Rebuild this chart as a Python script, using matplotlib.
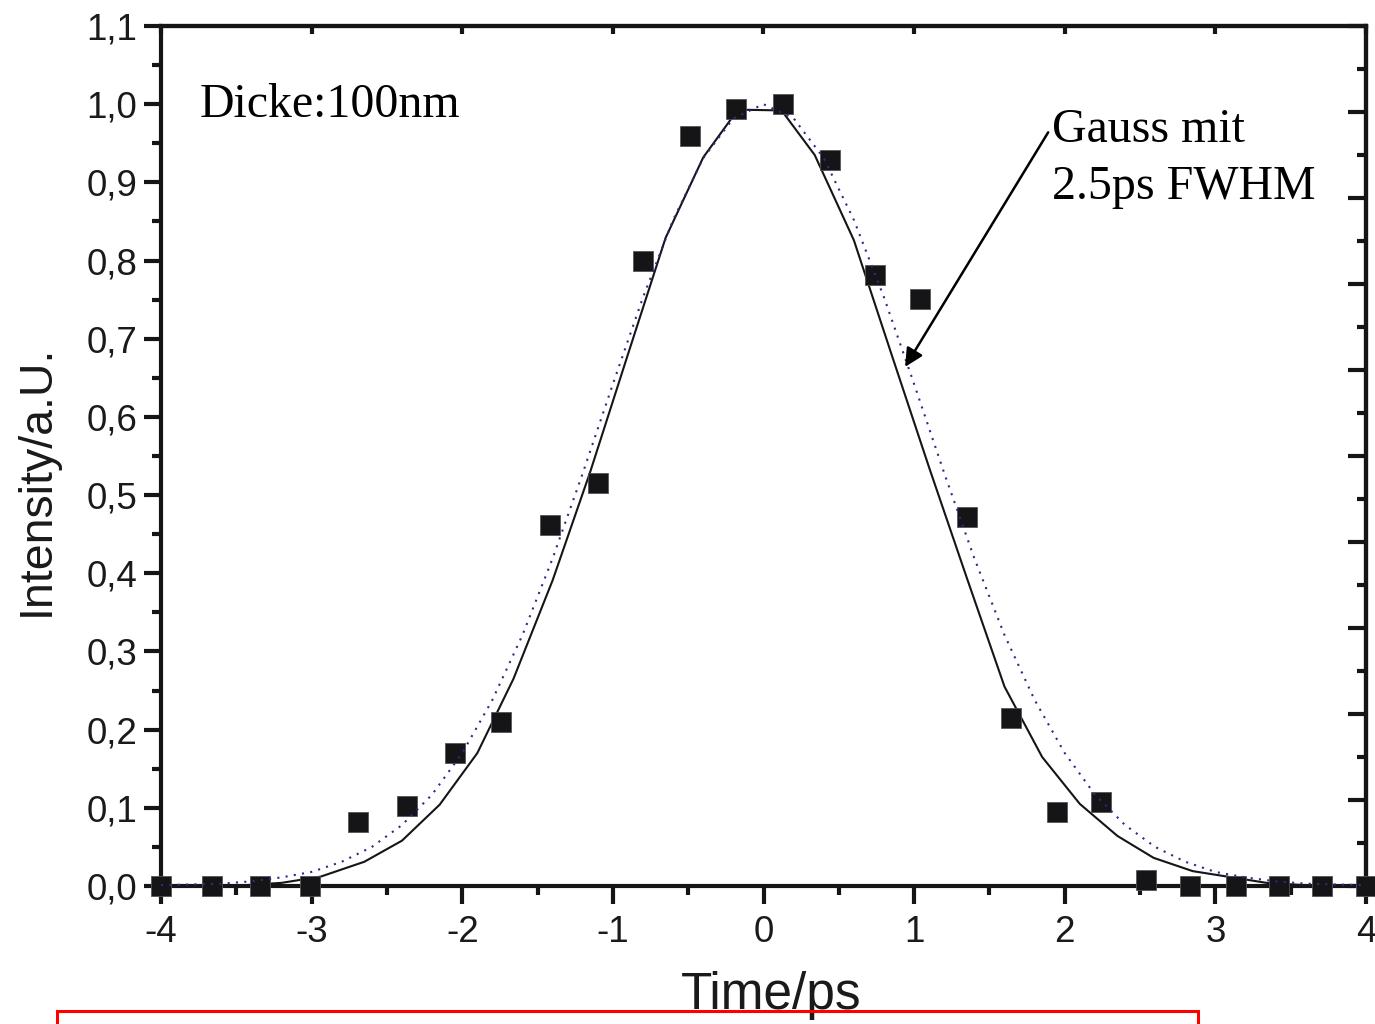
import matplotlib
matplotlib.use("Agg")
import matplotlib.pyplot as plt
from matplotlib.patches import Rectangle
from matplotlib.ticker import MultipleLocator, FuncFormatter, NullLocator

plt.rcParams['font.family'] = ['Liberation Sans', 'DejaVu Sans']
plt.rcParams['axes.unicode_minus'] = False

# Measured autocorrelation (squares)
t_meas = [-4.00, -3.66, -3.34, -3.01, -2.69, -2.37, -2.05, -1.74, -1.42, -1.10,
          -0.80, -0.49, -0.18, 0.13, 0.44, 0.74, 1.04, 1.35, 1.64, 1.95,
          2.24, 2.54, 2.83, 3.14, 3.42, 3.71, 4.00]
I_meas = [0.000, 0.000, 0.000, 0.000, 0.082, 0.102, 0.170, 0.210, 0.462, 0.515,
          0.800, 0.959, 0.994, 1.000, 0.928, 0.781, 0.751, 0.472, 0.215, 0.095,
          0.107, 0.008, 0.000, 0.000, 0.000, 0.000, 0.000]

# Fitted curve (solid polyline)
t_fit = [-4.00, -3.45, -3.20, -2.94, -2.65, -2.40, -2.15, -1.90, -1.66, -1.40,
         -1.15, -0.90, -0.65, -0.40, -0.17, 0.12, 0.34, 0.60, 0.85, 1.10,
         1.35, 1.60, 1.85, 2.10, 2.35, 2.59, 2.85, 3.08, 3.34, 3.60, 4.00]
I_fit = [0.000, 0.001, 0.004, 0.012, 0.031, 0.058, 0.104, 0.170, 0.265, 0.391,
         0.530, 0.680, 0.829, 0.932, 0.993, 0.992, 0.935, 0.826, 0.680, 0.535,
         0.394, 0.255, 0.165, 0.105, 0.064, 0.036, 0.019, 0.012, 0.004, 0.001, 0.000]

# Gaussian reference, 2.5 ps FWHM (dotted)
t_gauss = [-4.0, -3.8, -3.6, -3.4, -3.2, -3.0, -2.8, -2.6, -2.4, -2.2,
           -2.0, -1.8, -1.6, -1.4, -1.2, -1.0, -0.8, -0.6, -0.4, -0.2,
           0.0, 0.2, 0.4, 0.6, 0.8, 1.0, 1.2, 1.4, 1.6, 1.8,
           2.0, 2.2, 2.4, 2.6, 2.8, 3.0, 3.2, 3.4, 3.6, 3.8, 4.0]
I_gauss = [0.001, 0.002, 0.003, 0.006, 0.011, 0.018, 0.031, 0.050, 0.078, 0.117,
           0.170, 0.238, 0.321, 0.419, 0.528, 0.642, 0.753, 0.852, 0.931, 0.982,
           1.000, 0.982, 0.931, 0.852, 0.753, 0.642, 0.528, 0.419, 0.321, 0.238,
           0.170, 0.117, 0.078, 0.050, 0.031, 0.018, 0.011, 0.006, 0.003, 0.002, 0.001]

x_ticks = [-4, -3, -2, -1, 0, 1, 2, 3, 4]

W, H = 1375, 1024
fig = plt.figure(figsize=(W / 100, H / 100), dpi=100)
ax = fig.add_axes([161 / W, 138 / H, 1205 / W, 860 / H])

ink = '#151517'
ax.plot(t_fit, I_fit, color=ink, lw=1.5, zorder=2, solid_joinstyle='miter')
ax.plot(t_meas, I_meas, linestyle='none', marker='s', markersize=14.2,
        color=ink, markeredgecolor='#555558', markeredgewidth=0.6,
        zorder=3, clip_on=False)
ax.plot(t_gauss, I_gauss, color='#2b2b8c', lw=1.5, linestyle=(0, (1, 3)),
        zorder=4)

ax.set_xlim(-4, 4)
ax.set_ylim(0, 1.1)
ax.set_xticks(x_ticks)
ax.xaxis.set_minor_locator(MultipleLocator(0.5))
ax.yaxis.set_major_locator(MultipleLocator(0.1))
ax.yaxis.set_minor_locator(MultipleLocator(0.05))
ax.yaxis.set_major_formatter(FuncFormatter(lambda v, p: f"{v:.1f}".replace('.', ',')))
ax.xaxis.set_major_formatter(FuncFormatter(lambda v, p: f"{v:g}"))

for s in ax.spines.values():
    s.set_linewidth(3)
    s.set_color(ink)

ax.tick_params(axis='both', which='both', direction='out', width=3,
               color=ink, labelcolor='#1a1a1a', labelsize=26.5)
ax.tick_params(axis='y', which='major', length=12.2, pad=5)
ax.tick_params(axis='y', which='minor', length=6.5)
ax.tick_params(axis='x', which='major', length=12.8, pad=8)
ax.tick_params(axis='x', which='minor', length=6.8)

# Inward ticks on the top and right frame
top = ax.secondary_xaxis('top')
top.set_xticks(x_ticks)
top.xaxis.set_minor_locator(NullLocator())
top.tick_params(direction='in', length=5.5, width=3, color=ink, labeltop=False)
top.spines['top'].set_linewidth(3)

right = ax.secondary_yaxis('right', functions=(lambda y: y / 1.1, lambda r: r * 1.1))
right.yaxis.set_major_locator(MultipleLocator(0.1))
right.yaxis.set_minor_locator(MultipleLocator(0.05))
right.tick_params(which='major', direction='in', length=12.8, width=3, color=ink,
                  labelright=False)
right.tick_params(which='minor', direction='in', length=6.5, width=3, color=ink)
right.spines['right'].set_linewidth(3)

ax.set_ylabel('Intensity/a.U.', fontsize=33.5, color='#1a1a1a')
ax.yaxis.set_label_coords(-0.103, 0.472)
ax.yaxis.label.set_va('center')

ax.set_xlabel('Time/ps', fontsize=37, color='#1a1a1a')
ax.xaxis.set_label_coords(0.506, -0.143)
ax.xaxis.label.set_va('baseline')

serif = ['Liberation Serif', 'DejaVu Serif']
ax.text(-3.741, 0.983, 'Dicke:100nm', family=serif, fontsize=34.5,
        color='black', va='baseline', ha='left')
ax.text(1.917, 0.951, 'Gauss mit', family=serif, fontsize=34.5,
        color='black', va='baseline', ha='left')
ax.text(1.917, 0.8785, '2.5ps FWHM', family=serif, fontsize=34.5,
        color='black', va='baseline', ha='left')

ax.annotate('', xy=(0.94, 0.664), xytext=(1.89, 0.964),
            arrowprops=dict(arrowstyle='-|>,head_length=1.0,head_width=0.5',
                            mutation_scale=11, lw=1.8, color='black',
                            shrinkA=0, shrinkB=0), zorder=5)

# Red frame across the bottom
fig.add_artist(Rectangle((57 / W, -0.05), (1198 - 57) / W, 0.05 + (H - 1011) / H,
                         transform=fig.transFigure, fill=False,
                         edgecolor='red', linewidth=2.2))

fig.savefig('out.png', dpi=100)
